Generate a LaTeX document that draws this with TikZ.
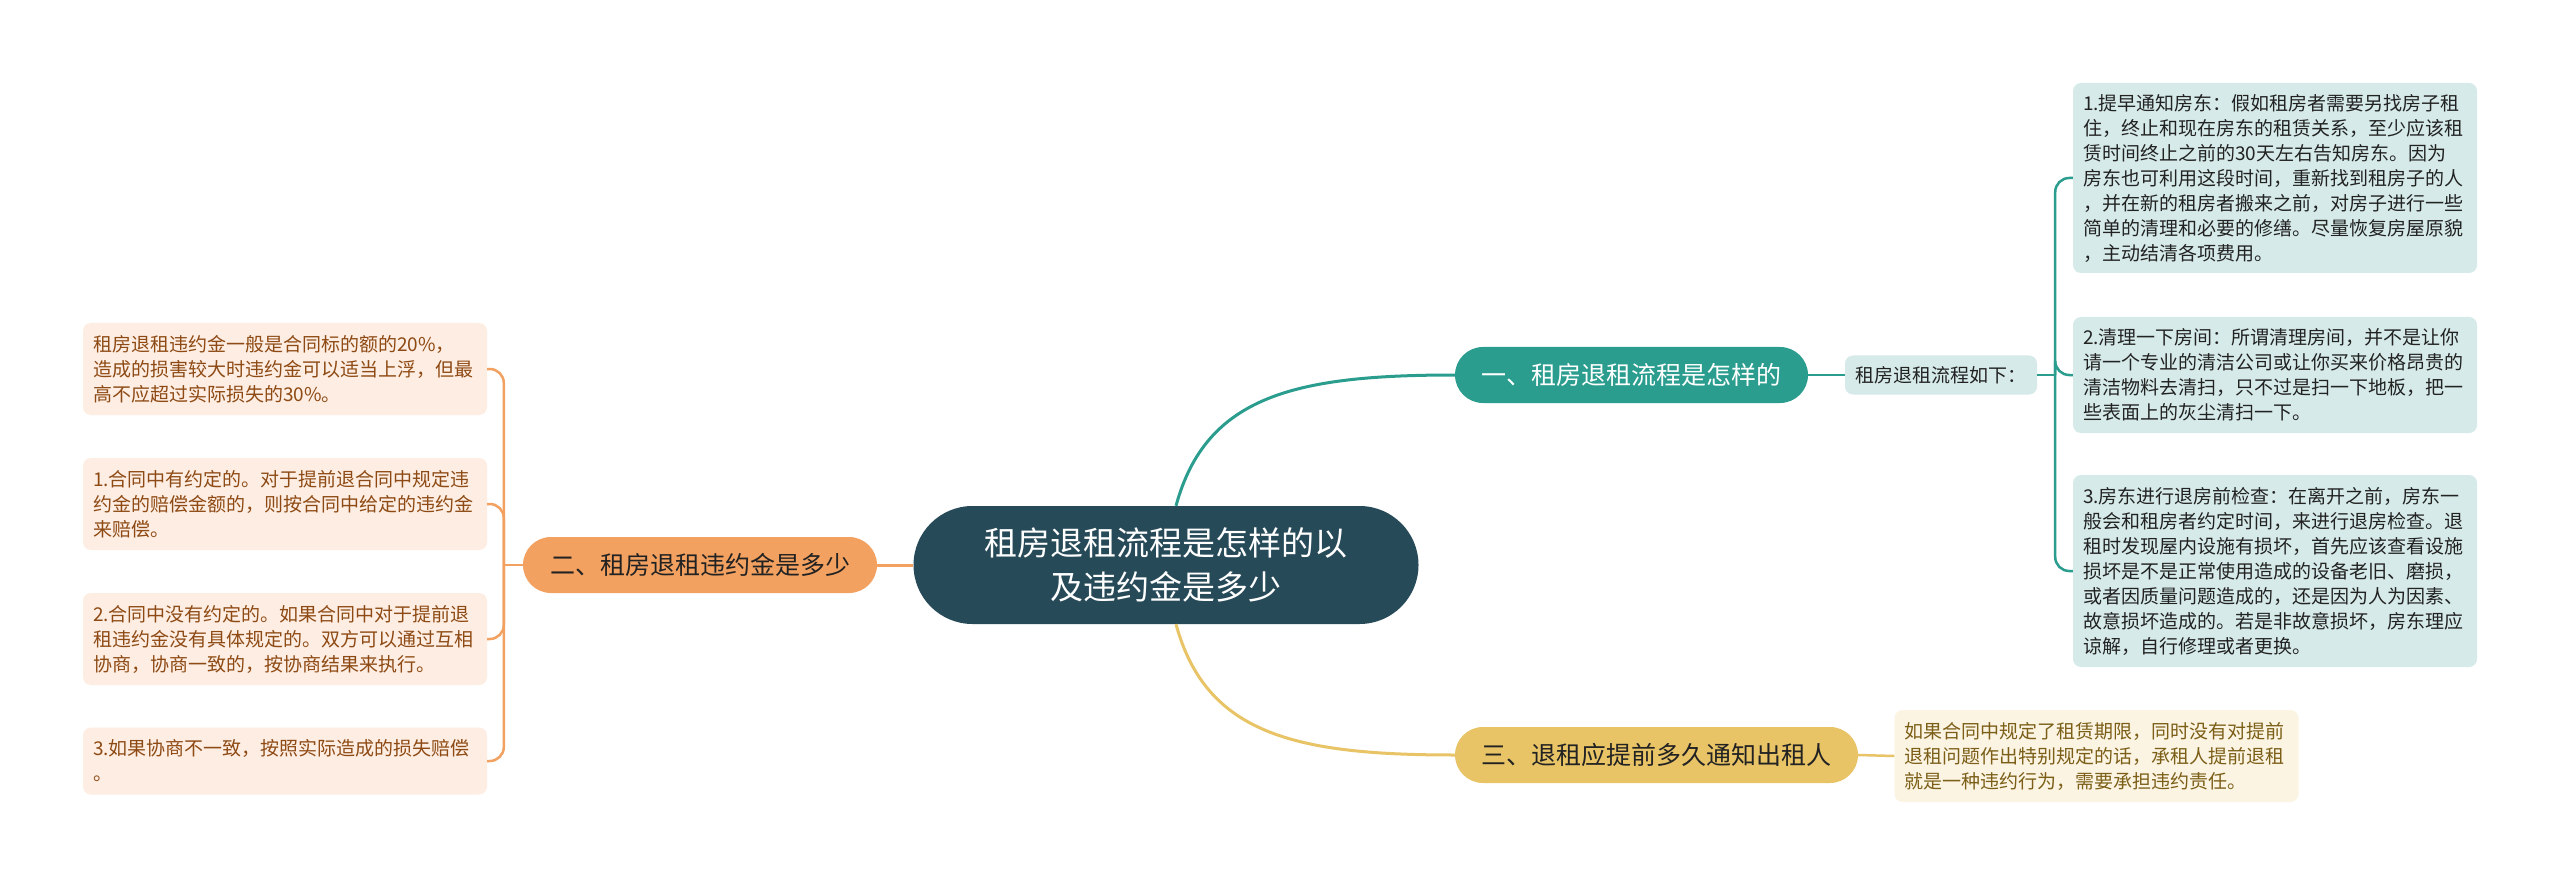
\documentclass[tikz,border=0pt]{standalone}
\usepackage{fontspec}
\setmainfont{Noto Sans CJK SC}
\definecolor{rootc}{HTML}{274A59}
\definecolor{tealc}{HTML}{2A9D8F}
\definecolor{orangec}{HTML}{F2A160}
\definecolor{yellowc}{HTML}{E8C467}
\definecolor{tealbg}{HTML}{D6EBE9}
\definecolor{orangebg}{HTML}{FDEDE2}
\definecolor{yellowbg}{HTML}{FCF4E2}
\definecolor{orangetxt}{HTML}{8E4A14}
\definecolor{yellowtxt}{HTML}{7B5E17}
\definecolor{darktxt}{HTML}{222222}
\tikzset{
  rootbox/.style={fill=rootc, rounded corners=59pt, minimum width=505pt, minimum height=118pt, text=white, align=center, inner sep=0pt, font=\fontsize{33}{44}\selectfont},
  brbox/.style={rounded corners=28pt, minimum height=56pt, inner sep=0pt, font=\fontsize{25}{30}\selectfont},
  leafbox/.style={rounded corners=8pt, text width=384pt, inner xsep=10pt, inner ysep=0pt, align=left, font=\fontsize{19}{25}\selectfont},
  tealleaf/.style={leafbox, fill=tealbg, text=darktxt},
  orangeleaf/.style={leafbox, fill=orangebg, text=orangetxt},
  yellowleaf/.style={leafbox, fill=yellowbg, text=yellowtxt},
  mainline/.style={line width=3pt},
  subline/.style={line width=2.5pt},
}
\begin{document}
\begin{tikzpicture}[x=1pt, y=-1pt]
\useasboundingbox[fill=white] (0,0) rectangle (2560,885);

\node[rootbox] (root) at (1166,565) {租房退租流程是怎样的以\\及违约金是多少};

\node[brbox, fill=tealc, text=white, minimum width=353pt] (b1) at (1631.5,375) {一、租房退租流程是怎样的};
\node[brbox, fill=orangec, text=darktxt, minimum width=354pt] (b2) at (700,565) {二、租房退租违约金是多少};
\node[brbox, fill=yellowc, text=darktxt, minimum width=403pt] (b3) at (1656.5,755) {三、退租应提前多久通知出租人};

\node[fill=tealbg, text=darktxt, rounded corners=8pt, minimum width=192pt, minimum height=39pt, inner sep=0pt, font=\fontsize{19}{25}\selectfont] (sub) at (1941,375) {租房退租流程如下：};

\node[tealleaf, minimum height=190pt] (r1) at (2275,178) {1.提早通知房东：假如租房者需要另找房子租\\住，终止和现在房东的租赁关系，至少应该租\\赁时间终止之前的30天左右告知房东。因为\\房东也可利用这段时间，重新找到租房子的人\\，并在新的租房者搬来之前，对房子进行一些\\简单的清理和必要的修缮。尽量恢复房屋原貌\\，主动结清各项费用。};
\node[tealleaf, minimum height=116pt] (r2) at (2275,375) {2.清理一下房间：所谓清理房间，并不是让你\\请一个专业的清洁公司或让你买来价格昂贵的\\清洁物料去清扫，只不过是扫一下地板，把一\\些表面上的灰尘清扫一下。};
\node[tealleaf, minimum height=192pt] (r3) at (2275,571) {3.房东进行退房前检查：在离开之前，房东一\\般会和租房者约定时间，来进行退房检查。退\\租时发现屋内设施有损坏，首先应该查看设施\\损坏是不是正常使用造成的设备老旧、磨损，\\或者因质量问题造成的，还是因为人为因素、\\故意损坏造成的。若是非故意损坏，房东理应\\谅解，自行修理或者更换。};

\node[yellowleaf, minimum height=92pt] (y1) at (2096.5,756) {如果合同中规定了租赁期限，同时没有对提前\\退租问题作出特别规定的话，承租人提前退租\\就是一种违约行为，需要承担违约责任。};

\node[orangeleaf, minimum height=92pt] (l1) at (285,369) {租房退租违约金一般是合同标的额的20\%，\\造成的损害较大时违约金可以适当上浮，但最\\高不应超过实际损失的30\%。};
\node[orangeleaf, minimum height=92pt] (l2) at (285,504) {1.合同中有约定的。对于提前退合同中规定违\\约金的赔偿金额的，则按合同中给定的违约金\\来赔偿。};
\node[orangeleaf, minimum height=92pt] (l3) at (285,639) {2.合同中没有约定的。如果合同中对于提前退\\租违约金没有具体规定的。双方可以通过互相\\协商，协商一致的，按协商结果来执行。};
\node[orangeleaf, minimum height=67pt] (l4) at (285,761) {3.如果协商不一致，按照实际造成的损失赔偿\\。};

% main connectors
\draw[mainline, tealc] ([xshift=10pt]root.north) .. controls +(30,-110) and +(-160,0) .. (b1.west);
\draw[mainline, yellowc] ([xshift=10pt]root.south) .. controls +(30,110) and +(-160,0) .. (b3.west);
\draw[mainline, orangec] (root.west) -- (b2.east);

% teal branch
\draw[subline, tealc] (b1.east) -- (sub.west);
\coordinate (rt) at ([xshift=18pt]sub.east);
\draw[subline, tealc] (sub.east) -- (rt);
\foreach \n in {r1,r2,r3} {
  \draw[subline, tealc, rounded corners=14pt] (rt) |- (\n.west);
}

% yellow branch
\draw[subline, yellowc] (b3.east) -- (y1.west);

% orange branch
\coordinate (lt) at ([xshift=-19pt]b2.west);
\draw[subline, orangec] (b2.west) -- (lt);
\foreach \n in {l1,l2,l3,l4} {
  \draw[subline, orangec, rounded corners=14pt] (lt) |- (\n.east);
}
\end{tikzpicture}
\end{document}
